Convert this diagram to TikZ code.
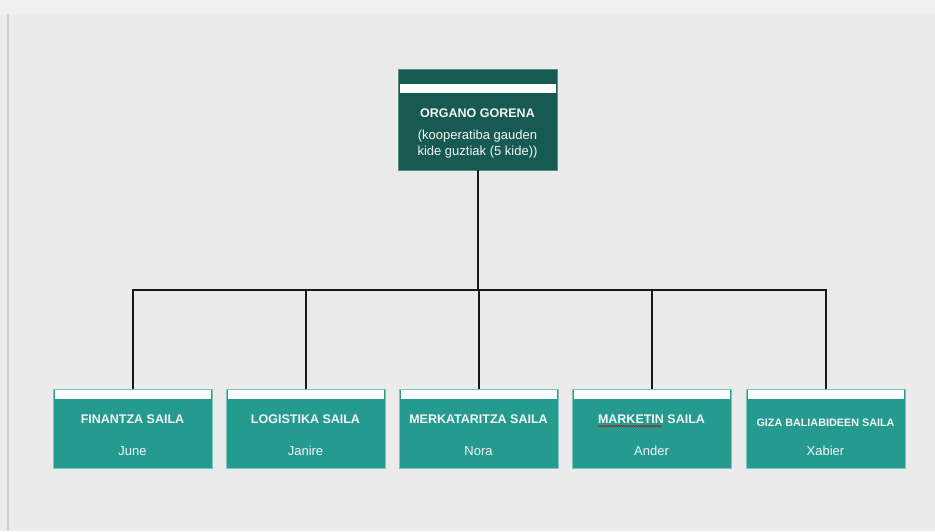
\documentclass[tikz,border=0pt]{standalone}
\usepackage{fontspec}
\setmainfont{Liberation Sans}
\usetikzlibrary{decorations.pathmorphing}
\definecolor{bgc}{HTML}{EBEBEB}
\definecolor{topstrip}{HTML}{F0F0F0}
\definecolor{edgeline}{HTML}{C9D1CE}
\definecolor{darkbox}{HTML}{165A52}
\definecolor{darkedge}{HTML}{5E8A84}
\definecolor{tealbox}{HTML}{259B90}
\definecolor{tealedge}{HTML}{7CC5BE}
\definecolor{txt}{HTML}{F4F4F4}
\tikzset{
  topbox/.style={draw=darkedge, line width=0.8pt, fill=darkbox, minimum width=159pt, minimum height=101pt, inner sep=0pt},
  deptbox/.style={draw=tealedge, line width=0.8pt, fill=tealbox, minimum width=159pt, minimum height=79pt, inner sep=0pt},
  strip/.style={fill=white},
  title/.style={text=txt, font=\bfseries\fontsize{12.5}{14}\selectfont, inner sep=0pt},
  smalltitle/.style={text=txt, font=\bfseries\fontsize{10.8}{12}\selectfont, inner sep=0pt},
  body/.style={text=txt, font=\fontsize{13}{16}\selectfont, inner sep=0pt, align=center},
  conn/.style={draw=black!90, line width=2pt},
}
\begin{document}
\begin{tikzpicture}[x=1pt,y=-1pt]
\useasboundingbox (0,0) rectangle (935,531);
\fill[bgc] (0,0) rectangle (935,531);
\fill[topstrip] (0,0) rectangle (935,14);
\draw[edgeline, line width=1.5pt] (8,14) -- (8,531);

% top box
\node[topbox] (top) at (477.5,119.5) {};
\fill[strip] (400,84) rectangle (556,93);
\node[title] (toptitle) at (477.5,113) {ORGANO GORENA};
\node[body] (topbody) at (477.5,144) {(kooperatiba gauden\\kide guztiak (5 kide))};

% departments
\foreach \n/\cx in {1/132.5,2/305.5,3/478.5,4/651.5,5/825.5}{
  \node[deptbox] (b\n) at (\cx,428.5) {};
  \fill[strip] ({\cx-78},390) rectangle ({\cx+78},399);
  \coordinate (j\n) at (\cx,290);
}
\node[title] (t1) at (132.5,419) {FINANTZA SAILA};
\node[title] (t2) at (305.5,419) {LOGISTIKA SAILA};
\node[title] (t3) at (478.5,419) {MERKATARITZA SAILA};
\node[title] (t4) at (651.5,419) {MARKETIN SAILA};
\node[smalltitle] (t5) at (825.5,423) {GIZA BALIABIDEEN SAILA};
\node[body] (n1) at (132.5,451) {June};
\node[body] (n2) at (305.5,451) {Janire};
\node[body] (n3) at (478.5,451) {Nora};
\node[body] (n4) at (651.5,451) {Ander};
\node[body] (n5) at (825.5,451) {Xabier};
\draw[red!75!black, line width=0.5pt, decorate, decoration={snake, amplitude=0.7pt, segment length=2.5pt}] (t4.south west) ++(0,2.5) -- ++(64,0);

% connectors
\coordinate (hub) at (477.5,290);
\draw[conn] (top.south) -- (hub);
\draw[conn, line cap=rect] (j1) -- (j5);
\foreach \n in {1,...,5}{ \draw[conn] (j\n) -- (b\n.north); }
\end{tikzpicture}
\end{document}
